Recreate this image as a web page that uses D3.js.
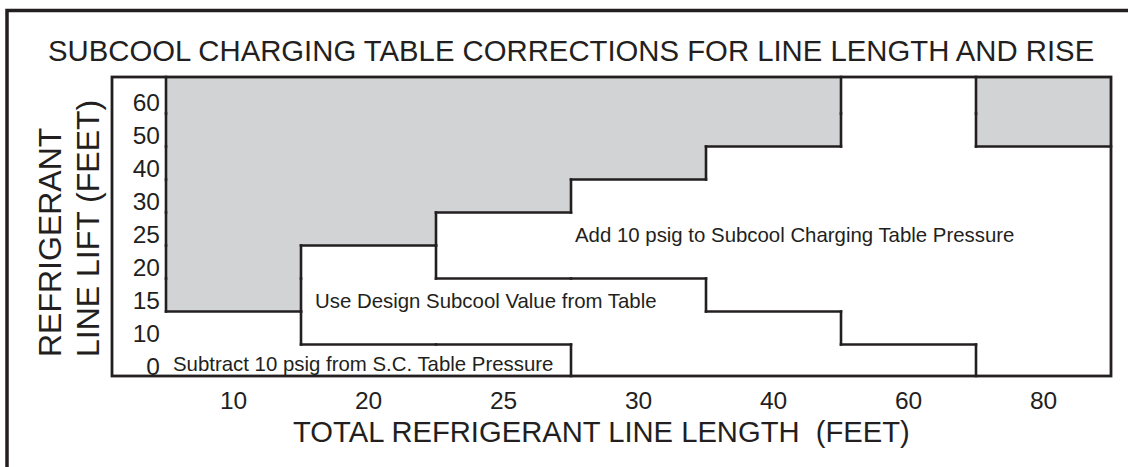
<!DOCTYPE html>
<html>
<head>
<meta charset="utf-8">
<script src="https://cdn.jsdelivr.net/npm/d3@7"></script>
<style>
    body { margin: 0; background: #fff; }
    svg { display: block; font-family: "Liberation Sans", Arial, Helvetica, sans-serif; }
    text { fill: #231f20; white-space: pre; }
</style>
</head>
<body>
<svg id="chart"></svg>
<script>
// columns: total line length (feet), rows: line lift (feet)
const lineLengths = [10, 20, 25, 30, 40, 60, 80];
const lineLifts = [0, 10, 15, 20, 25, 30, 40, 50, 60];

// per length: lowest lift of each zone (null = zone not present in that column)
const shadedFrom = [15, 25, 30, 40, 50, null, 50];
const addFrom = [null, null, 20, 20, 15, 10, 0];
const designFrom = [null, 10, 10, 0, 0, 0, null];

const titleText = 'SUBCOOL CHARGING TABLE CORRECTIONS FOR LINE LENGTH AND RISE';
const xTitle = 'TOTAL REFRIGERANT LINE LENGTH  (FEET)';
const yTitle = ['REFRIGERANT', 'LINE LIFT (FEET)'];

const zoneNames = ['sub', 'design', 'add'];
const zoneTexts = [
    'Subtract 10 psig from S.C. Table Pressure',
    'Use Design Subcool Value from Table',
    'Add 10 psig to Subcool Charging Table Pressure'
];
const zoneAnchorLength = [10, 20, 30];
const zoneAnchorLift = [0, 15, 25];

class SubcoolChart {
    constructor(selector) {
        this.width = 1128;
        this.height = 467;
        this.plot = {left: 112, top: 77, right: 1111, bottom: 376};
        this.ink = '#231f20';
        this.svg = d3.select(selector)
            .attr('width', this.width)
            .attr('height', this.height);
        this.xScale = d3.scaleBand().domain(lineLengths).range([166, this.plot.right]);
        this.yScale = d3.scaleBand().domain(lineLifts).range([377.5, 80.5]);
        this.draw();
    }
    zone(c, r) {
        if (c < 0) return 'sub';
        const lift = lineLifts[r];
        if (shadedFrom[c] !== null && lift >= shadedFrom[c]) return 'shade';
        if (addFrom[c] !== null && lift >= addFrom[c]) return 'add';
        if (designFrom[c] !== null && lift >= designFrom[c]) return 'design';
        return 'sub';
    }
    colLeft(c) {
        return c < 0 ? this.plot.left : this.xScale(lineLengths[c]);
    }
    colRight(c) {
        return c < 0 ? this.xScale(lineLengths[0]) : this.xScale(lineLengths[c]) + this.xScale.bandwidth();
    }
    rowTop(r) {
        return r === lineLifts.length - 1 ? this.plot.top : this.yScale(lineLifts[r]);
    }
    rowBottom(r) {
        return r === 0 ? this.plot.bottom : this.yScale(lineLifts[r]) + this.yScale.bandwidth();
    }
    draw() {
        const svg = this.svg;
        const p = this.plot;

        // outer page frame
        svg.append('path')
            .attr('d', `M7,${this.height + 10}V10.5H${this.width + 10}`)
            .attr('fill', 'none')
            .attr('stroke', this.ink)
            .attr('stroke-width', 3.5);

        svg.append('text')
            .attr('x', 48)
            .attr('y', 61)
            .style('font-size', '29.3px')
            .text(titleText);

        // shaded cells
        const cells = [];
        lineLengths.forEach((len, c) => {
            lineLifts.forEach((lift, r) => {
                if (this.zone(c, r) === 'shade') cells.push({c, r});
            });
        });
        svg.append('g')
            .selectAll('rect')
            .data(cells)
            .enter()
            .append('rect')
            .attr('x', d => this.colLeft(d.c))
            .attr('y', d => this.rowTop(d.r))
            .attr('width', d => this.colRight(d.c) - this.colLeft(d.c))
            .attr('height', d => this.rowBottom(d.r) - this.rowTop(d.r))
            .attr('fill', '#d1d3d4')
            .attr('shape-rendering', 'crispEdges');

        // zone boundaries wherever neighbouring cells differ
        const segs = [];
        for (let c = -1; c < lineLengths.length; c++) {
            for (let r = 0; r < lineLifts.length; r++) {
                if (r + 1 < lineLifts.length && this.zone(c, r) !== this.zone(c, r + 1)) {
                    const y = this.rowTop(r);
                    segs.push([this.colLeft(c), y, this.colRight(c), y]);
                }
                if (c + 1 < lineLengths.length && this.zone(c, r) !== this.zone(c + 1, r)) {
                    const x = this.colRight(c);
                    segs.push([x, this.rowTop(r), x, this.rowBottom(r)]);
                }
            }
        }
        svg.append('g')
            .selectAll('line')
            .data(segs)
            .enter()
            .append('line')
            .attr('x1', d => d[0])
            .attr('y1', d => d[1])
            .attr('x2', d => d[2])
            .attr('y2', d => d[3])
            .attr('stroke', this.ink)
            .attr('stroke-width', 2.6)
            .attr('stroke-linecap', 'square');

        svg.append('rect')
            .attr('x', p.left)
            .attr('y', p.top)
            .attr('width', p.right - p.left)
            .attr('height', p.bottom - p.top)
            .attr('fill', 'none')
            .attr('stroke', this.ink)
            .attr('stroke-width', 2.8);

        // zone notes
        const noteOffset = [[7, 9.5], [14, 13], [4, 13]];
        svg.append('g')
            .selectAll('text')
            .data(zoneNames)
            .enter()
            .append('text')
            .attr('x', (d, i) => this.xScale(zoneAnchorLength[i]) + noteOffset[i][0])
            .attr('y', (d, i) => this.yScale(zoneAnchorLift[i]) + this.yScale.bandwidth() / 2 + noteOffset[i][1])
            .style('font-size', '20.4px')
            .text((d, i) => zoneTexts[i]);

        // axes (labels only)
        const xAxis = d3.axisBottom(this.xScale).tickSize(0).tickPadding(16);
        const yAxis = d3.axisLeft(this.yScale).tickSize(0).tickPadding(6);
        svg.append('g')
            .attr('class', 'x-axis')
            .attr('transform', `translate(0, ${p.bottom})`)
            .call(xAxis)
            .call(g => g.select('.domain').remove())
            .attr('font-family', null)
            .attr('font-size', 24.5);
        svg.append('g')
            .attr('class', 'y-axis')
            .attr('transform', 'translate(166, 0)')
            .call(yAxis)
            .call(g => g.select('.domain').remove())
            .attr('font-family', null)
            .attr('font-size', 24.5)
            .selectAll('text')
            .attr('dy', '0.56em');

        svg.append('text')
            .attr('x', 293)
            .attr('y', 441.5)
            .style('font-size', '29.2px')
            .text(xTitle);

        svg.append('g')
            .selectAll('text')
            .data(yTitle)
            .enter()
            .append('text')
            .attr('transform', (d, i) => `translate(${61 + i * 38}, 357) rotate(-90)`)
            .style('font-size', '32px')
            .text(d => d);
    }
}

new SubcoolChart('#chart');
</script>
</body>
</html>
